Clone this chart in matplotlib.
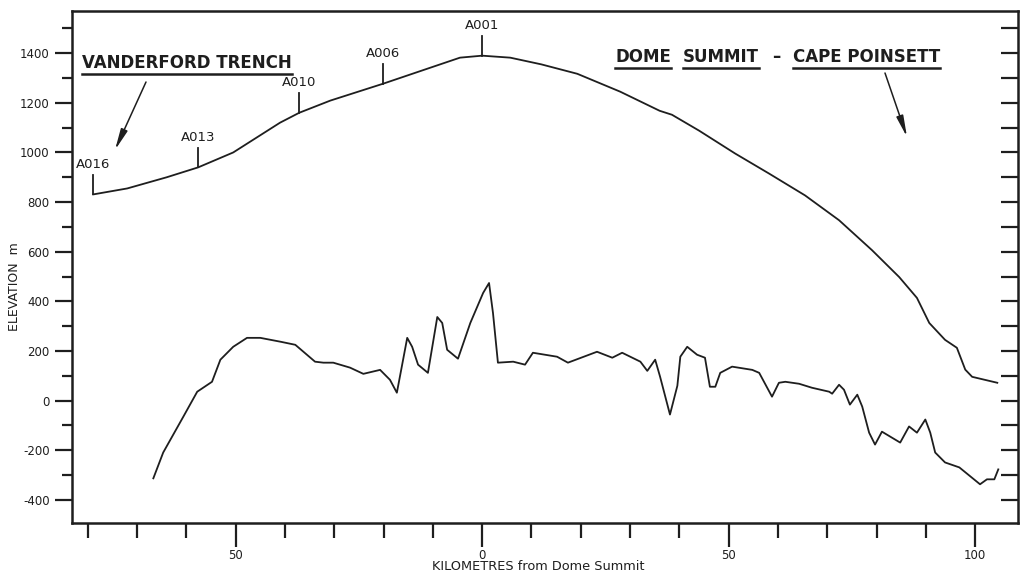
import matplotlib
matplotlib.use("Agg")
import matplotlib.pyplot as plt
from matplotlib.lines import Line2D
from matplotlib.ticker import MultipleLocator, FuncFormatter

# ---------------- data ----------------
surface_km = [-78.9, -72.0, -64.0, -57.6, -50.5, -41.0, -37.1, -30.8, -20.1,
              -10.0, -4.5, 0.0, 5.7, 12.0, 19.3, 28.0, 36.0, 38.5, 44.0, 51.3,
              58.2, 65.5, 72.4, 79.1, 84.6, 88.2, 90.7, 93.9, 96.3, 98.0,
              99.4, 104.5]
surface_elev = [831, 855, 900, 940, 1000, 1120, 1160, 1209, 1277,
                1345, 1382, 1390, 1382, 1355, 1317, 1245, 1168, 1152, 1088, 996,
                915, 827, 727, 606, 498, 414, 313, 245, 213, 125,
                96, 72]

bed_km = [-66.7, -64.7, -60.6, -57.8, -54.8, -53.1, -50.5, -47.7, -45.0,
          -40.8, -37.9, -33.9, -32.2, -30.2, -26.8, -24.1, -20.7, -18.7,
          -17.3, -16.3, -15.2, -14.2, -13.0, -11.0, -9.1, -8.1, -7.1, -4.9,
          -2.4, 0.2, 1.4, 2.2, 3.2, 6.3, 8.7, 10.3, 15.2, 17.4, 23.3, 26.4,
          28.4, 32.1, 33.5, 35.1, 36.1, 38.1, 39.6, 40.2, 41.6, 43.6, 45.2,
          46.2, 47.3, 48.3, 50.7, 54.8, 56.2, 58.8, 60.2, 61.5, 64.3, 66.9,
          70.4, 71.0, 72.4, 73.4, 74.6, 76.1, 77.1, 78.5, 79.7, 81.1, 84.8,
          86.6, 88.2, 89.9, 90.9, 91.9, 93.9, 96.8, 101.0, 102.4, 103.9,
          104.7]
bed_elev = [-313, -209, -64, 36, 76, 165, 217, 253, 253,
            237, 225, 157, 153, 153, 133, 108, 124, 84,
            32, 137, 253, 217, 145, 112, 337, 313, 205, 169,
            313, 434, 474, 353, 153, 157, 145, 193, 177, 153, 197, 173,
            193, 157, 120, 165, 96, -56, 60, 177, 217, 185, 173,
            56, 56, 112, 137, 124, 112, 16, 72, 76, 68, 52,
            36, 28, 64, 44, -16, 24, -24, -129, -177, -125, -169,
            -104, -129, -76, -129, -209, -249, -269, -337, -317, -317,
            -277]

station_names = ["A016", "A013", "A010", "A006", "A001"]
station_km = [-78.9, -57.6, -37.1, -20.1, 0.0]
station_elev = [831, 940, 1160, 1277, 1390]

y_major = [-400, -200, 0, 200, 400, 600, 800, 1000, 1200, 1400]
x_major = [-50, 0, 50, 100]

# ---------------- figure ----------------
W, H = 1022, 576
plt.rcParams['font.family'] = ['DejaVu Sans']
plt.rcParams['axes.unicode_minus'] = False
fig = plt.figure(figsize=(W / 100, H / 100), dpi=100)
ax = fig.add_axes([72 / W, 1 - 523 / H, (1018 - 72) / W, (523 - 11) / H])

ink = '#1e1e1e'
ax.plot(surface_km, surface_elev, color=ink, lw=1.3, solid_joinstyle='round')
ax.plot(bed_km, bed_elev, color=ink, lw=1.3, solid_joinstyle='round')

ax.set_xlim(-83.2, 108.7)
ax.set_ylim(-493, 1570)

for s in ax.spines.values():
    s.set_linewidth(1.8)
    s.set_color(ink)

ax.yaxis.set_minor_locator(MultipleLocator(100))
ax.set_yticks(y_major)
ax.xaxis.set_minor_locator(MultipleLocator(10))
ax.set_xticks(x_major)
ax.xaxis.set_major_formatter(FuncFormatter(lambda v, p: f"{abs(int(round(v)))}"))
ax.tick_params(axis='y', which='major', direction='out', length=12, width=1.6,
               labelsize=8.5, pad=4, color=ink, labelcolor=ink)
ax.tick_params(axis='y', which='minor', direction='out', length=7, width=1.6, color=ink)
ax.tick_params(axis='x', which='major', direction='out', length=17, width=1.6,
               labelsize=8.5, pad=2, color=ink, labelcolor=ink)
ax.tick_params(axis='x', which='minor', direction='out', length=11, width=1.6, color=ink)

ax2 = ax.twinx()
ax2.set_ylim(ax.get_ylim())
ax2.yaxis.set_major_locator(MultipleLocator(100))
ax2.tick_params(axis='y', direction='in', length=12, width=1.6, labelright=False, color=ink)
for s in ax2.spines.values():
    s.set_visible(False)

# station markers
for name, k, e in zip(station_names, station_km, station_elev):
    ax.plot([k, k], [e, e + 78], color=ink, lw=1.3)
    ax.annotate(name, xy=(k, e + 78), xytext=(0, 3), textcoords='offset points',
                ha='center', va='bottom', fontsize=9.5, color=ink)

def fp(x, y):
    return (x, H - y)

fig.text(15 / W, 1 - 287 / H, "ELEVATION  m", rotation=90, ha='center', va='center',
         fontsize=9, color=ink)
fig.text(538 / W, 1 - 567 / H, "KILOMETRES from Dome Summit", ha='center', va='center',
         fontsize=9.3, color=ink)

bold = dict(fontsize=12, fontweight='bold', color=ink, va='baseline', ha='left')
t_v = fig.text(82 / W, 1 - 68 / H, "VANDERFORD TRENCH", **bold)
t_d = fig.text(615 / W, 1 - 62 / H, "DOME", **bold)
t_s = fig.text(683 / W, 1 - 62 / H, "SUMMIT", **bold)
fig.text(772 / W, 1 - 62 / H, "\u2013", **bold)
t_c = fig.text(793 / W, 1 - 62 / H, "CAPE POINSETT", **bold)

fig.canvas.draw()
r = fig.canvas.get_renderer()
for t in (t_v, t_d, t_s, t_c):
    bb = t.get_window_extent(r)
    yb = bb.y0 - 2
    fig.add_artist(Line2D([bb.x0 / W, bb.x1 / W], [yb / H, yb / H], color=ink, lw=1.8,
                          transform=fig.transFigure))

arrow = dict(arrowstyle='-|>,head_length=0.9,head_width=0.15', color=ink, lw=1.1,
             mutation_scale=14, shrinkA=0, shrinkB=0)
ax.annotate("", xy=fp(115, 150), xytext=fp(146, 82), xycoords='figure pixels',
            textcoords='figure pixels', arrowprops=arrow)
ax.annotate("", xy=fp(907, 137), xytext=fp(885, 73), xycoords='figure pixels',
            textcoords='figure pixels', arrowprops=arrow)

fig.savefig("out.png", dpi=100)
